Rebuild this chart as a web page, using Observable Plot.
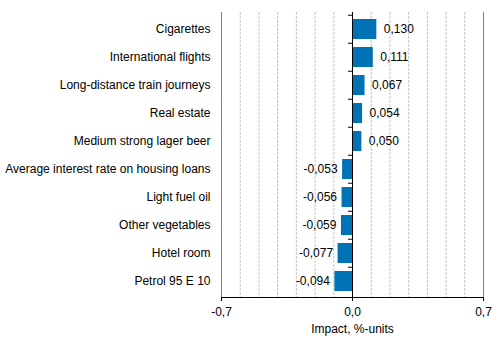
<!DOCTYPE html>
<html>
<head>
<meta charset="utf-8">
<script src="https://cdn.jsdelivr.net/npm/d3@7"></script>
<script src="https://cdn.jsdelivr.net/npm/@observablehq/plot@0.6"></script>
<style>
  html, body { margin: 0; padding: 0; background: #fff; }
</style>
</head>
<body>
<div id="chart"></div>
<script>
const categories = [
  "Cigarettes",
  "International flights",
  "Long-distance train journeys",
  "Real estate",
  "Medium strong lager beer",
  "Average interest rate on housing loans",
  "Light fuel oil",
  "Other vegetables",
  "Hotel room",
  "Petrol 95 E 10"
];
const values = [0.130, 0.111, 0.067, 0.054, 0.050, -0.053, -0.056, -0.059, -0.077, -0.094];
const xTicks = [-0.7, 0, 0.7];
const gridTicks = [-0.6, -0.5, -0.4, -0.3, -0.2, -0.1, 0.1, 0.2, 0.3, 0.4, 0.5, 0.6];
const xLabel = "Impact, %-units";

const data = categories.map((c, i) => ({category: c, value: values[i]}));
const pos = data.filter(d => d.value >= 0);
const neg = data.filter(d => d.value < 0);
const fmt3 = d => d.toFixed(3).replace(".", ",");
const fmt1 = d => d.toFixed(1).replace(".", ",");

const W = 499, H = 340, mT = 12, mB = 43, mL = 221, mR = 16;
const pIn = 0.3, pOut = 0.14;
const step = (H - mT - mB) / (categories.length - pIn + 2 * pOut);
const unitsPerPx = 1.4 / (W - mL - mR);

const chart = Plot.plot({
  width: W,
  height: H,
  marginTop: mT,
  marginBottom: mB,
  marginLeft: mL,
  marginRight: mR,
  style: {fontFamily: "'Liberation Sans', Arial, sans-serif", fontSize: "12px", color: "#000", background: "#fff"},
  x: {domain: [-0.7, 0.7]},
  y: {domain: categories, paddingInner: pIn, paddingOuter: pOut},
  marks: [
    Plot.ruleX(gridTicks, {stroke: "#c6c6c6", strokeDasharray: "3,1", strokeWidth: 1}),
    Plot.ruleX([-0.7, 0.7], {stroke: "#808080", strokeWidth: 1}),
    Plot.barX(data, {x: "value", y: "category", fill: "#0072b5"}),
    Plot.ruleX([0], {stroke: "#000", strokeWidth: 1}),
    Plot.ruleY(categories, {y: d => d, x1: 0, x2: -4 * unitsPerPx, dy: -step / 2, stroke: "#000"}),
    Plot.frame({anchor: "bottom", stroke: "#000"}),
    Plot.axisX({ticks: xTicks, tickFormat: fmt1, tickSize: 4, tickPadding: 6, label: xLabel, labelAnchor: "center", labelArrow: "none", labelOffset: 35, fill: "#000"}),
    Plot.axisY({tickSize: 0, tickPadding: 11, label: null, fill: "#000"}),
    Plot.text(pos, {x: "value", y: "category", text: d => fmt3(d.value), textAnchor: "start", dx: 7, fill: "#000"}),
    Plot.text(neg, {x: "value", y: "category", text: d => fmt3(d.value), textAnchor: "end", dx: -5, fill: "#000"})
  ]
});
document.getElementById("chart").appendChild(chart);
</script>
</body>
</html>
